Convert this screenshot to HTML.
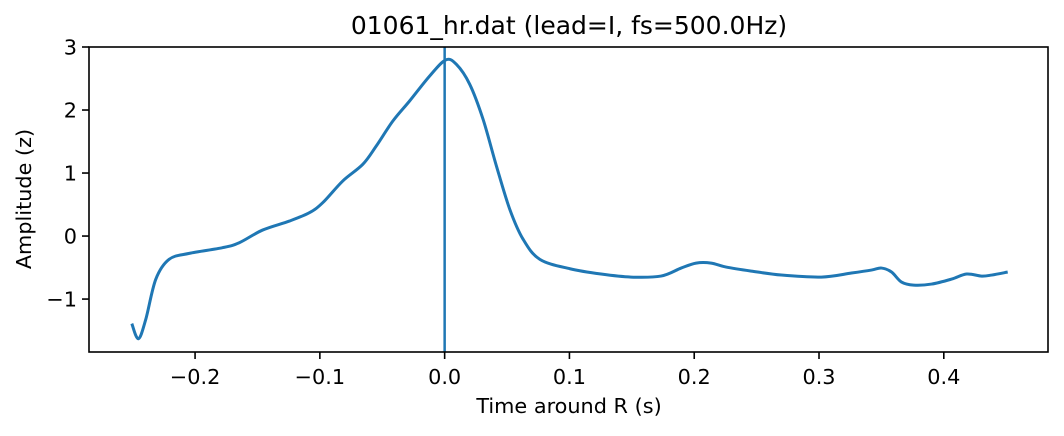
<!DOCTYPE html>
<html><head><meta charset="utf-8"><style>
body{margin:0;background:#fff;}
svg text{font-family:"DejaVu Sans","Liberation Sans",sans-serif;fill:#000;}
</style></head><body>
<svg id="chart" width="1064" height="431" xmlns="http://www.w3.org/2000/svg">
<rect width="1064" height="431" fill="#fff"/>
<text x="569" y="34" font-size="25" text-anchor="middle">01061_hr.dat (lead=I, fs=500.0Hz)</text>
<g id="xticks"></g>
<g id="yticks"></g>
<path id="series" fill="none" stroke="#1f77b4" stroke-width="3" stroke-linejoin="round" stroke-linecap="butt"/>
<line id="rline" stroke="#1f77b4" stroke-width="2.5"/>
<rect x="89" y="47" width="959" height="305" fill="none" stroke="#000" stroke-width="1.6"/>
<text x="569" y="413" font-size="20.8" text-anchor="middle">Time around R (s)</text>
<text transform="translate(31,199) rotate(-90)" font-size="20.8" text-anchor="middle">Amplitude (z)</text>
</svg>
<script>
const times=[-0.2507,-0.2454,-0.2395,-0.2315,-0.2208,-0.2047,-0.178,-0.1646,-0.1459,-0.1244,-0.1084,-0.0977,-0.0817,-0.0656,-0.0548,-0.0415,-0.0281,-0.012,0.0008,0.0094,0.0201,0.0308,0.0415,0.0522,0.0629,0.0763,0.1004,0.1253,0.1493,0.1734,0.1895,0.2015,0.2136,0.2256,0.2457,0.2698,0.3019,0.326,0.342,0.3501,0.3581,0.3661,0.3758,0.3902,0.4063,0.4183,0.4303,0.4384,0.4512];
const values=[-1.39,-1.63,-1.322,-0.687,-0.37,-0.275,-0.185,-0.106,0.095,0.238,0.37,0.529,0.873,1.138,1.429,1.825,2.143,2.54,2.794,2.725,2.408,1.852,1.111,0.424,-0.052,-0.37,-0.519,-0.603,-0.651,-0.635,-0.508,-0.429,-0.429,-0.492,-0.556,-0.619,-0.651,-0.587,-0.54,-0.508,-0.571,-0.73,-0.778,-0.762,-0.683,-0.603,-0.635,-0.619,-0.571];
const xTicks=[-0.2,-0.1,0.0,0.1,0.2,0.3,0.4];
const xTickLabels=["\u22120.2","\u22120.1","0.0","0.1","0.2","0.3","0.4"];
const yTicks=[-1,0,1,2,3];
const yTickLabels=["\u22121","0","1","2","3"];
const rTime=0.0;
const X0=89,X1=1048,Y0=352,Y1=47;
const xMin=-0.285,xMax=0.4835,yMin=-1.84,yMax=3.0;
const sx=v=>X0+(v-xMin)/(xMax-xMin)*(X1-X0);
const sy=v=>Y0-(v-yMin)/(yMax-yMin)*(Y0-Y1);
const NS="http://www.w3.org/2000/svg";
const xg=document.getElementById('xticks');
xTicks.forEach((t,i)=>{
  const l=document.createElementNS(NS,'line');
  
  
  l.setAttribute('x1',sx(t));l.setAttribute('x2',sx(t));l.setAttribute('y1',Y0);l.setAttribute('y2',Y0+7);
  l.setAttribute('stroke','#000');l.setAttribute('stroke-width','1.6');
  xg.appendChild(l);
  const tx=document.createElementNS(NS,'text');
  
  
  tx.setAttribute('x',sx(t));tx.setAttribute('y',Y0+32);tx.setAttribute('font-size','20.8');tx.setAttribute('text-anchor','middle');
  tx.textContent=xTickLabels[i];xg.appendChild(tx);
});
const yg=document.getElementById('yticks');
yTicks.forEach((t,i)=>{
  const l=document.createElementNS(NS,'line');
  
  
  l.setAttribute('x1',X0-7);l.setAttribute('x2',X0);l.setAttribute('y1',sy(t));l.setAttribute('y2',sy(t));
  l.setAttribute('stroke','#000');l.setAttribute('stroke-width','1.6');
  yg.appendChild(l);
  const tx=document.createElementNS(NS,'text');
  
  
  tx.setAttribute('x',X0-12);tx.setAttribute('y',sy(t)+7.5);tx.setAttribute('font-size','20.8');tx.setAttribute('text-anchor','end');
  tx.textContent=yTickLabels[i];yg.appendChild(tx);
});
const P=times.map((t,i)=>[sx(t),sy(values[i])]);
let d='M'+P[0][0]+','+P[0][1];
for(let i=0;i<P.length-1;i++){
  const p0=P[Math.max(i-1,0)],p1=P[i],p2=P[i+1],p3=P[Math.min(i+2,P.length-1)];
  const c1=[p1[0]+(p2[0]-p0[0])/6,p1[1]+(p2[1]-p0[1])/6];
  const c2=[p2[0]-(p3[0]-p1[0])/6,p2[1]-(p3[1]-p1[1])/6];
  d+=' C'+c1[0]+','+c1[1]+' '+c2[0]+','+c2[1]+' '+p2[0]+','+p2[1];
}
document.getElementById('series').setAttribute('d',d);
const r=document.getElementById('rline');
r.setAttribute('x1',sx(rTime));r.setAttribute('x2',sx(rTime));r.setAttribute('y1',Y1);r.setAttribute('y2',Y0);
</script>
</body></html>
